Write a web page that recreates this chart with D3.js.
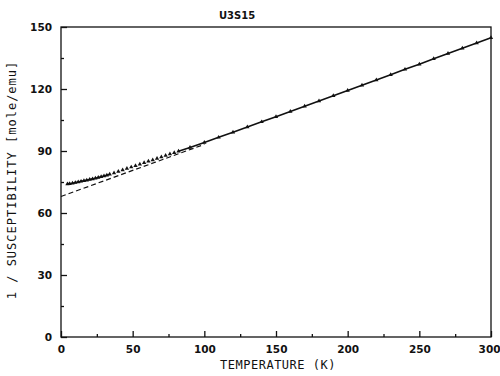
<!DOCTYPE html>
<html>
<head>
<meta charset="utf-8">
<script src="https://cdn.jsdelivr.net/npm/d3@7"></script>
<style>
  body { margin: 0; background: #fff; }
  text { fill: #111; font-family: "DejaVu Sans", sans-serif; }
</style>
</head>
<body>
<svg id="chart" width="500" height="376"></svg>
<script>
// measured points: temperature (K) and 1/chi (mole/emu)
const temps = [4.5, 6, 8, 10, 12, 14, 16, 18, 20, 22, 24, 26, 28, 30, 32, 34,
  37, 40, 43, 46, 49, 52, 55, 58, 61, 64, 67, 70, 73, 76, 79, 82,
  90, 100, 110, 120, 130, 140, 150, 160, 170, 180, 190, 200, 210, 220, 230, 240,
  250, 260, 270, 280, 290, 300];
const invChi = [74.0, 74.2, 74.4, 74.7, 75.0, 75.3, 75.6, 75.9, 76.2, 76.5, 76.8, 77.2, 77.5, 77.9, 78.3, 78.7,
  79.4, 80.1, 80.8, 81.5, 82.2, 82.9, 83.6, 84.3, 85.0, 85.7, 86.4, 87.1, 87.8, 88.5, 89.2, 89.9,
  91.7, 94.1, 96.6, 99.1, 101.6, 104.1, 106.6, 109.1, 111.7, 114.2, 116.7, 119.3, 121.8, 124.4, 126.9, 129.5,
  132.0, 134.6, 137.2, 139.7, 142.3, 144.8];
// Curie-Weiss fit line (dashed), end points
const fitT = [0, 100];
const fitV = [68.0, 93.2];

const xTicks = [0, 50, 100, 150, 200, 250, 300];
const yTicks = [0, 30, 60, 90, 120, 150];
const title = 'U3S15';
const xTitle = 'TEMPERATURE (K)';
const yTitle = '1 / SUSCEPTIBILITY [mole/emu]';

const svg = d3.select('#chart');
const m = { left: 61, right: 491, top: 27, bottom: 337 };

const x = d3.scaleLinear().domain([0, 300]).range([m.left, m.right]);
const y = d3.scaleLinear().domain([0, 150]).range([m.bottom, m.top]);

// frame
svg.append('rect')
  .attr('x', m.left).attr('y', m.top)
  .attr('width', m.right - m.left).attr('height', m.bottom - m.top)
  .attr('fill', 'none').attr('stroke', '#111').attr('stroke-width', 1.3);

// x axis, ticks pointing in
const xAxis = svg.append('g')
  .attr('transform', `translate(0,${m.bottom})`)
  .call(d3.axisBottom(x).tickValues(xTicks).tickSize(-6).tickPadding(9).tickFormat(d3.format('d')));
svg.append('g')
  .attr('transform', `translate(0,${m.bottom})`)
  .call(d3.axisBottom(x).tickValues([25, 75, 125, 175, 225, 275]).tickSize(-3).tickFormat(''));

// y axis, ticks pointing in
const yAxis = svg.append('g')
  .attr('transform', `translate(${m.left},0)`)
  .call(d3.axisLeft(y).tickValues(yTicks).tickSize(-6).tickPadding(9).tickFormat(d3.format('d')));
svg.append('g')
  .attr('transform', `translate(${m.left},0)`)
  .call(d3.axisLeft(y).tickValues([15, 45, 75, 105, 135]).tickSize(-3).tickFormat(''));

svg.selectAll('.domain').remove();
svg.selectAll('.tick line').attr('stroke', '#111').attr('stroke-width', 1.3);
svg.selectAll('.tick text')
  .style('font-size', '10.5px').style('font-weight', 'bold')
  .style('font-family', '"DejaVu Sans", sans-serif');
yAxis.selectAll('.tick text').attr('dy', '0.35em');
// last label sits against the page edge, as in the original
xAxis.selectAll('.tick text').filter(d => d === 300).attr('text-anchor', 'end').attr('dx', '9px');

// data
const pts = temps.map((t, i) => ({ t: t, v: invChi[i] }));

// dashed fit
const fit = fitT.map((t, i) => ({ t: t, v: fitV[i] }));
svg.append('path')
  .datum(fit)
  .attr('fill', 'none')
  .attr('stroke', '#111')
  .attr('stroke-width', 1.2)
  .attr('stroke-dasharray', '5,3')
  .attr('d', d3.line().x(d => x(d.t)).y(d => y(d.v)));

// solid line through data, gap where only symbols were plotted
svg.append('path')
  .datum(pts)
  .attr('fill', 'none')
  .attr('stroke', '#111')
  .attr('stroke-width', 1.6)
  .attr('d', d3.line()
    .defined(d => d.t <= 34 || d.t >= 82)
    .x(d => x(d.t)).y(d => y(d.v)));

svg.append('g')
  .selectAll('path')
  .data(pts)
  .join('path')
  .attr('transform', d => `translate(${x(d.t)},${y(d.v)})`)
  .attr('d', d3.symbol().type(d3.symbolTriangle).size(8))
  .attr('fill', '#111');

// titles
svg.append('text')
  .attr('x', 237).attr('y', 19)
  .attr('text-anchor', 'middle')
  .style('font-size', '10px').style('font-weight', 'bold')
  .text(title);

svg.append('text')
  .attr('x', 278).attr('y', 369)
  .attr('text-anchor', 'middle')
  .style('font-family', '"DejaVu Sans Mono", monospace')
  .style('font-size', '12px')
  .style('letter-spacing', '0.5px')
  .text(xTitle);

svg.append('text')
  .attr('transform', 'translate(16,180) rotate(-90)')
  .attr('text-anchor', 'middle')
  .style('font-family', '"DejaVu Sans Mono", monospace')
  .style('font-size', '12px')
  .style('letter-spacing', '1px')
  .text(yTitle);
</script>
</body>
</html>
